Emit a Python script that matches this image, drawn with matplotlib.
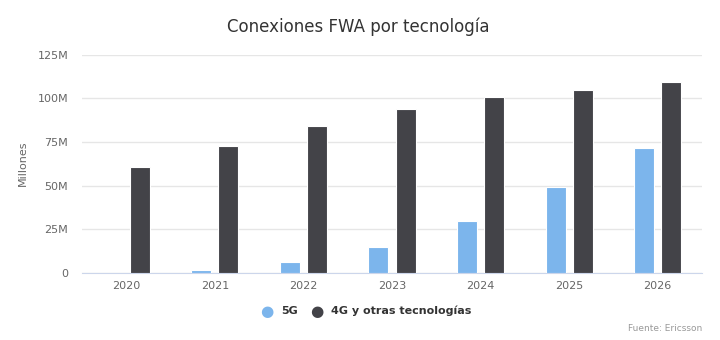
import numpy as np
import matplotlib.pyplot as plt

# Datos (millones de conexiones)
anios = ["2020", "2021", "2022", "2023", "2024", "2025", "2026"]
conex_5g = [0, 1.7, 6.1, 14.7, 29.5, 49.0, 71.3]
conex_4g = [60.8, 72.8, 84.3, 94.0, 100.6, 104.8, 109.5]
yticks = [0, 25, 50, 75, 100, 125]
ytick_labels = ["0", "25M", "50M", "75M", "100M", "125M"]

col_5g = "#7cb5ec"
col_4g = "#434348"

fig = plt.figure(figsize=(7.2, 3.4), dpi=100)
ax = fig.add_axes([0.1139, 0.198, 0.861, 0.641])

x = np.arange(len(anios))
ancho = 0.226
ax.bar(x - 0.153, conex_5g, ancho, color=col_5g, edgecolor="white", linewidth=0.8, zorder=3)
ax.bar(x + 0.153, conex_4g, ancho, color=col_4g, edgecolor="white", linewidth=0.8, zorder=3)

ax.set_xlim(-0.5, len(anios) - 0.5)
ax.set_ylim(0, 125)
ax.set_xticks(x)
ax.set_xticklabels(anios)
ax.set_yticks(yticks)
ax.set_yticklabels(ytick_labels)
ax.tick_params(axis="both", length=0, labelsize=8, colors="#666666")
ax.tick_params(axis="x", pad=6)
ax.tick_params(axis="y", pad=10)
ax.grid(axis="y", color="#e6e6e6", linewidth=1, zorder=0)
for s in ["top", "right", "left"]:
    ax.spines[s].set_visible(False)
ax.spines["bottom"].set_color("#ccd6eb")

ax.set_ylabel("Millones", fontsize=8, color="#666666", labelpad=7)

fig.text(0.497, 0.92, "Conexiones FWA por tecnología", ha="center", va="center",
         fontsize=12, color="#333333")

# Leyenda
fig.text(0.37, 0.085, "●", color=col_5g, fontsize=11, ha="center", va="center")
fig.text(0.39, 0.085, "5G", color="#333333", fontsize=8, fontweight="bold", va="center")
fig.text(0.44, 0.085, "●", color=col_4g, fontsize=11, ha="center", va="center")
fig.text(0.46, 0.085, "4G y otras tecnologías", color="#333333", fontsize=8,
         fontweight="bold", va="center")

fig.text(0.975, 0.035, "Fuente: Ericsson", ha="right", va="center", fontsize=6.5, color="#999999")

fig.savefig("out.png", dpi=100, facecolor="white")
